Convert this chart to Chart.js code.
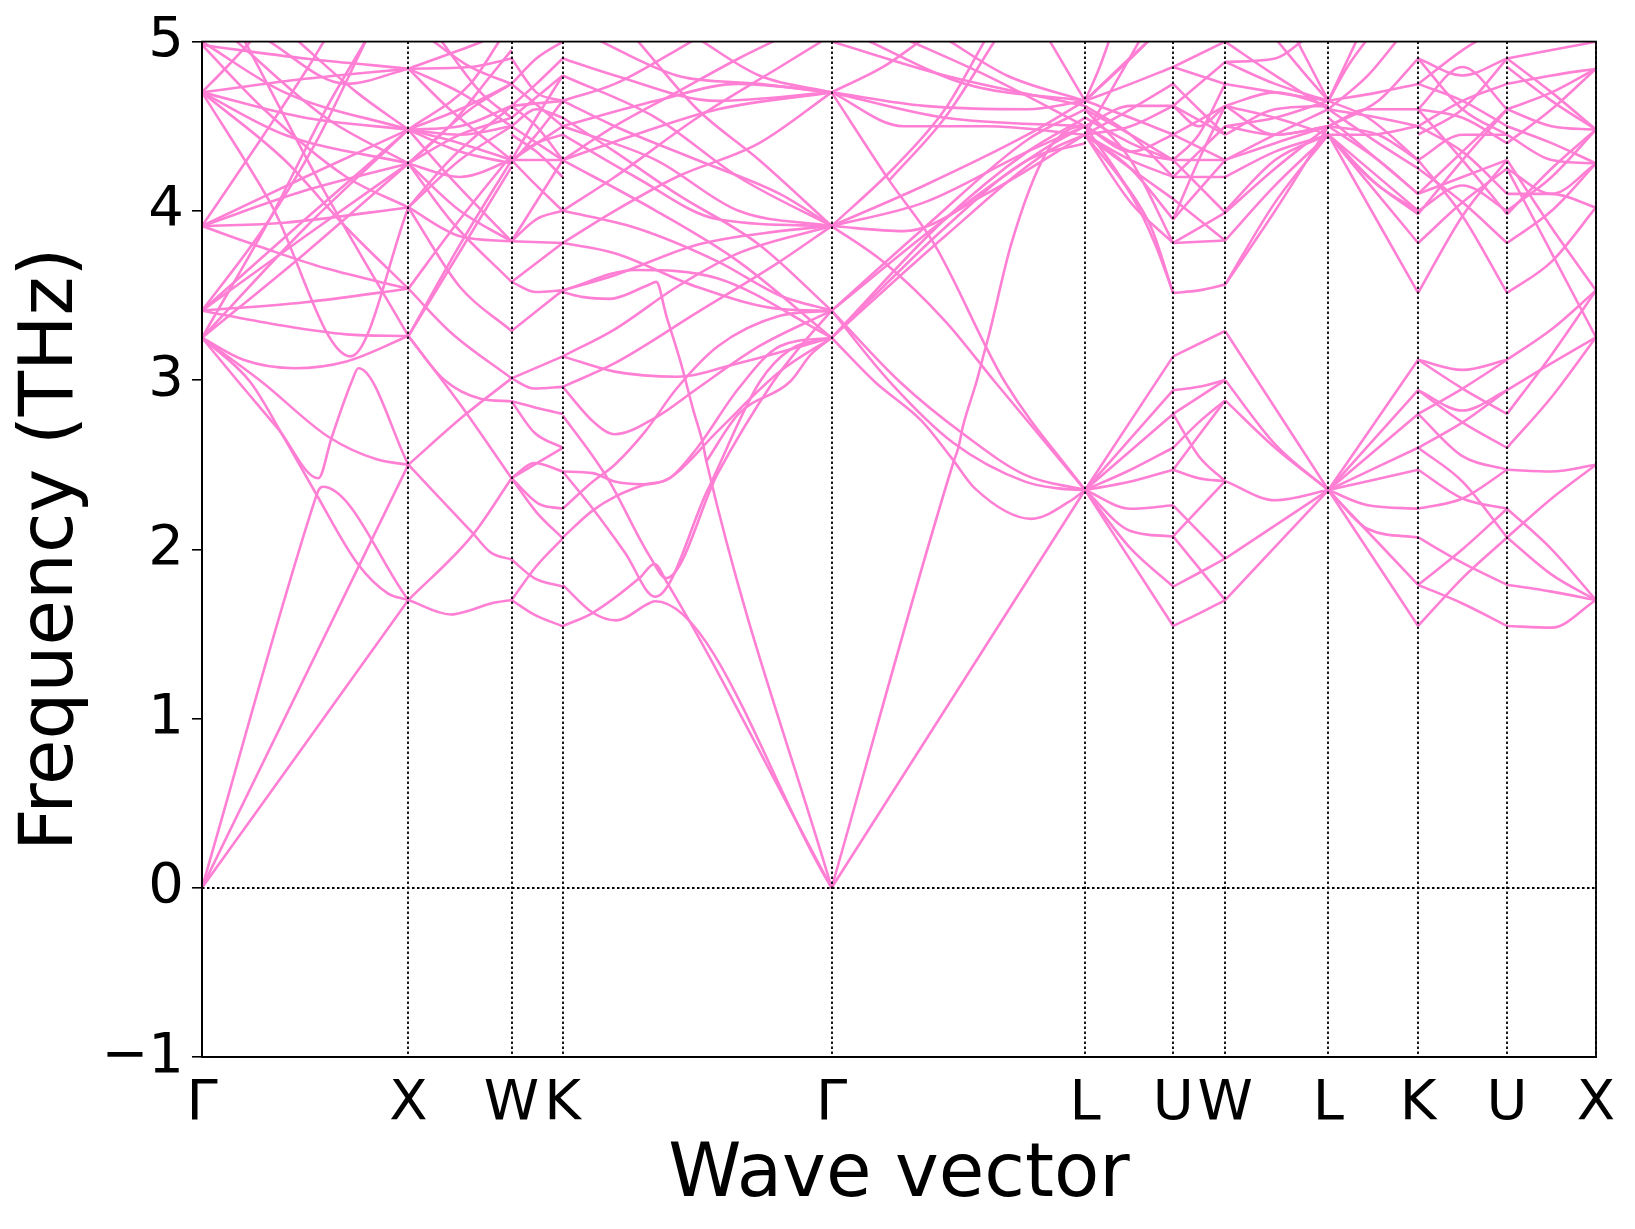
<!DOCTYPE html>
<html lang="en">

<head>
  <meta charset="UTF-8">
  <title>Phonon bands</title>
  <script src="https://cdn.jsdelivr.net/npm/chart.js"></script>
  <style>
    body { margin: 0; background: #fff; }
    #wrap { width: 1635px; height: 1229px; }
  </style>
</head>

<body>
  <div id="wrap"><canvas id="myChart"></canvas></div>
  <script>
    // high-symmetry points along the path
    const kpos = [0, 1.0, 1.5, 1.748, 3.051, 4.279, 4.706, 4.958, 5.458, 5.893, 6.324, 6.755];
    const kLabels = ['Γ', 'X', 'W', 'K', 'Γ', 'L', 'U', 'W', 'L', 'K', 'U', 'X'];
    const yTicks = [-1, 0, 1, 2, 3, 4, 5];

    // bands, [q, THz], one list per path segment
    const bandsGX = [
      [[0, 0], [1, 1.70]],
      [[0, 0], [1, 2.50]],
      [[0, 0], [0.544, 2.28], [0.565, 2.35], [0.585, 2.37], [1, 1.70]],
      [[0, 3.25], [0.233, 2.99], [0.402, 2.65], [0.547, 2.34], [0.757, 1.91], [0.9, 1.74], [1, 1.70]],
      [[0, 3.25], [0.176, 2.99], [0.37, 2.71], [0.564, 2.42], [0.628, 2.66], [0.725, 2.99], [0.758, 3.07], [1, 2.50]],
      [[0, 3.25], [0.289, 2.99], [0.612, 2.665], [0.85, 2.53], [1, 2.50]],
      [[0, 3.25], [0.2, 3.12], [0.45, 3.07], [0.7, 3.11], [1, 3.26]],
      [[0, 3.41], [0.5, 3.46], [1, 3.54]],
      [[0, 3.41], [0.35, 3.33], [0.7, 3.27], [1, 3.26]],
      [[0, 3.91], [0.3, 3.78], [0.6, 3.66], [1, 3.54]],
      [[0, 4.70], [0.33, 4.05], [0.72, 3.14], [1, 4.02]],
      [[0, 3.25], [0.5, 3.9], [1, 4.48]],
      [[0, 3.41], [0.5, 3.85], [1, 4.28]],
      [[0, 3.25], [0.5, 3.75], [1, 4.28]],
      [[0, 3.41], [0.5, 3.95], [1, 4.48]],
      [[0, 3.91], [0.5, 4.12], [1, 4.28]],
      [[0, 3.91], [0.5, 4.2], [1, 4.48]],
      [[0, 3.91], [0.4, 3.93], [1, 4.02]],
      [[0, 4.70], [0.5, 4.55], [1, 4.48]],
      [[0, 4.70], [0.5, 4.78], [1, 4.84]],
      [[0, 4.70], [0.4, 4.45], [1, 4.28]],
      [[0, 5.0], [0.4, 4.7], [1, 4.48]],
      [[0, 4.98], [0.5, 4.9], [1, 4.84]],
      [[0.15, 5.02], [0.6, 4.55], [1, 4.28]],
      [[0, 4.70], [0.12, 4.85], [0.25, 5.02]],
      [[0, 3.91], [0.3, 4.45], [0.5, 4.82], [0.6, 5.02]],
      [[0.3, 5.02], [0.7, 4.75], [1, 4.84]],
      [[0.2, 5.02], [0.6, 4.1], [1, 3.26]],
      [[0, 4.98], [0.3, 4.6], [0.7, 4.2], [1, 4.02]],
      [[0, 3.41], [0.3, 3.9], [0.55, 4.4], [0.8, 5.02]],
      [[0, 3.25], [0.35, 4.0], [0.6, 4.6], [0.8, 5.02]],
      [[0.45, 5.02], [0.75, 4.7], [1, 4.48]],
      [[0, 4.70], [0.4, 4.3], [0.7, 3.9], [1, 3.54]]
    ];

    const bandsXW = [
      [[1, 1.70], [1.205, 1.615], [1.3, 1.64], [1.4, 1.68], [1.5, 1.70]],
      [[1, 1.70], [1.312, 2.085], [1.5, 2.42]],
      [[1, 2.50], [1.312, 2.095], [1.4, 1.98], [1.5, 1.94]],
      [[1, 2.50], [1.27, 2.79], [1.5, 3.01]],
      [[1, 3.26], [1.255, 2.85], [1.5, 2.42]],
      [[1, 3.26], [1.175, 3.0], [1.35, 2.89], [1.5, 2.875]],
      [[1, 4.02], [1.25, 3.55], [1.5, 3.29]],
      [[1, 3.54], [1.207, 3.28], [1.5, 3.01]],
      [[1, 3.26], [1.25, 3.8], [1.5, 4.30]],
      [[1, 3.26], [1.25, 3.76], [1.5, 4.26]],
      [[1, 3.54], [1.25, 3.95], [1.5, 4.33]],
      [[1, 4.02], [1.25, 3.85], [1.5, 3.82]],
      [[1, 4.28], [1.25, 4.0], [1.5, 3.82]],
      [[1, 4.28], [1.2, 3.95], [1.5, 3.58]],
      [[1, 4.48], [1.25, 4.4], [1.5, 4.30]],
      [[1, 4.48], [1.25, 4.6], [1.5, 4.75]],
      [[1, 4.84], [1.25, 4.7], [1.5, 4.50]],
      [[1, 4.84], [1.25, 4.95], [1.4, 5.02]],
      [[1, 4.28], [1.25, 4.45], [1.5, 4.55]],
      [[1, 4.02], [1.2, 4.3], [1.5, 4.62]],
      [[1.1, 5.02], [1.3, 4.85], [1.5, 4.75]],
      [[1, 4.48], [1.25, 4.35], [1.5, 4.28]],
      [[1, 4.28], [1.2, 4.5], [1.4, 4.8], [1.5, 4.95]],
      [[1, 4.48], [1.2, 4.2], [1.5, 3.82]],
      [[1, 4.84], [1.2, 4.6], [1.5, 4.30]],
      [[1, 4.02], [1.25, 4.3], [1.5, 4.50]],
      [[1.15, 5.02], [1.35, 4.7], [1.5, 4.55]],
      [[1, 4.84], [1.3, 4.85], [1.5, 4.9]],
      [[1, 4.48], [1.25, 4.5], [1.5, 4.62]],
      [[1, 4.28], [1.25, 4.2], [1.5, 4.30]],
      [[1, 4.48], [1.25, 4.45], [1.5, 4.5]],
      [[1, 4.28], [1.3, 4.6], [1.5, 4.75]],
      [[1, 4.48], [1.3, 4.75], [1.45, 5.02]]
    ];

    const bandsWK = [
      [[1.5, 1.70], [1.61, 1.614], [1.748, 1.545]],
      [[1.5, 1.94], [1.61, 1.83], [1.748, 1.78]],
      [[1.5, 1.70], [1.62, 1.90], [1.748, 2.065]],
      [[1.5, 2.42], [1.62, 2.22], [1.748, 2.065]],
      [[1.5, 2.42], [1.63, 2.27], [1.748, 2.24]],
      [[1.5, 2.42], [1.61, 2.51], [1.748, 2.46]],
      [[1.5, 2.42], [1.748, 2.60]],
      [[1.5, 2.875], [1.61, 2.69], [1.748, 2.60]],
      [[1.5, 2.875], [1.64, 2.83], [1.748, 2.80]],
      [[1.5, 3.01], [1.61, 2.95], [1.748, 2.96]],
      [[1.5, 3.01], [1.748, 3.14]],
      [[1.5, 3.29], [1.748, 3.53]],
      [[1.5, 3.58], [1.62, 3.52], [1.748, 3.53]],
      [[1.5, 3.82], [1.748, 3.81]],
      [[1.5, 3.58], [1.748, 3.81]],
      [[1.5, 3.82], [1.62, 3.95], [1.748, 4.0]],
      [[1.5, 4.30], [1.748, 4.30]],
      [[1.5, 4.30], [1.62, 4.15], [1.748, 4.0]],
      [[1.5, 4.30], [1.748, 4.50]],
      [[1.5, 4.50], [1.748, 4.30]],
      [[1.5, 4.55], [1.748, 4.8]],
      [[1.5, 4.75], [1.748, 4.5]],
      [[1.5, 4.62], [1.748, 4.65]],
      [[1.5, 4.28], [1.62, 4.45], [1.748, 4.65]],
      [[1.5, 4.30], [1.62, 4.4], [1.748, 4.45]],
      [[1.5, 4.5], [1.62, 4.6], [1.748, 4.55]],
      [[1.5, 4.9], [1.62, 4.7], [1.748, 4.65]],
      [[1.5, 4.62], [1.62, 4.5], [1.748, 4.3]],
      [[1.5, 3.82], [1.748, 4.3]],
      [[1.5, 4.75], [1.62, 4.9], [1.748, 5.0]],
      [[1.5, 4.30], [1.62, 4.55], [1.748, 4.8]],
      [[1.5, 4.45], [1.62, 4.35], [1.748, 4.2]],
      [[1.5, 4.62], [1.62, 4.75], [1.748, 4.9]]
    ];

    const bandsKG = [
      [[1.748, 3.52], [1.85, 3.49], [1.975, 3.48], [2.16, 3.56], [2.201, 3.58], [2.25, 3.38], [2.323, 3.09], [2.379, 2.83], [2.428, 2.62], [2.444, 2.52], [3.051, 0]],
      [[1.748, 1.546], [1.894, 1.625], [2.12, 1.83], [2.193, 1.913], [2.25, 1.81], [3.051, 0]],
      [[1.748, 1.79], [1.894, 1.625], [2.007, 1.58], [2.169, 1.683], [2.196, 1.693], [3.051, 0]],
      [[1.748, 2.46], [1.894, 2.24], [2.05, 1.98], [2.196, 1.72], [2.45, 2.35], [2.703, 2.99], [2.85, 3.18], [3.051, 3.25]],
      [[1.748, 2.79], [1.894, 2.55], [1.975, 2.40], [2.169, 1.96], [2.25, 1.83], [2.5, 2.45], [2.768, 2.99], [2.9, 3.2], [3.051, 3.41]],
      [[2.444, 2.52], [2.6, 2.8], [2.849, 2.99], [2.95, 3.15], [3.051, 3.25]],
      [[1.748, 2.07], [1.894, 2.23], [2.0, 2.31], [2.14, 2.38], [2.266, 2.42], [2.4, 2.6], [2.6, 2.95], [2.8, 3.2], [3.051, 3.25]],
      [[1.748, 2.24], [1.894, 2.4], [2.0, 2.5], [2.15, 2.7], [2.3, 2.95], [2.5, 3.2], [2.8, 3.38], [3.051, 3.41]],
      [[1.748, 2.46], [1.894, 2.45], [2.0, 2.40], [2.136, 2.384], [2.266, 2.42], [2.5, 2.7], [2.8, 3.05], [3.051, 3.25]],
      [[1.748, 2.96], [1.9, 2.75], [2.0, 2.68], [2.2, 2.78], [2.4, 2.95], [2.7, 3.2], [3.051, 3.41]],
      [[1.748, 3.81], [2.0, 3.75], [2.4, 3.55], [2.8, 3.42], [3.051, 3.41]],
      [[1.748, 3.53], [2.0, 3.62], [2.4, 3.8], [2.8, 3.88], [3.051, 3.91]],
      [[1.748, 4.0], [2.1, 3.9], [2.5, 3.7], [2.8, 3.5], [3.051, 3.41]],
      [[1.748, 4.3], [2.2, 4.0], [2.6, 3.7], [3.051, 3.25]],
      [[1.748, 4.5], [2.2, 4.3], [2.6, 4.0], [3.051, 3.91]],
      [[1.748, 4.8], [2.2, 4.55], [2.6, 4.2], [3.051, 3.91]],
      [[1.748, 4.3], [2.1, 4.45], [2.5, 4.6], [3.051, 4.70]],
      [[1.748, 4.5], [2.2, 4.65], [2.6, 4.75], [3.051, 4.70]],
      [[1.748, 4.0], [2.0, 4.2], [2.4, 4.55], [2.8, 4.85], [3.0, 5.0]],
      [[1.748, 4.65], [2.0, 4.75], [2.3, 4.95], [2.4, 5.02]],
      [[1.9, 5.02], [2.3, 4.8], [2.7, 4.75], [3.051, 4.70]],
      [[1.748, 3.81], [2.0, 4.0], [2.3, 4.2], [2.7, 4.4], [3.051, 4.70]],
      [[1.748, 3.14], [2.0, 3.3], [2.3, 3.55], [2.6, 3.75], [3.051, 3.91]],
      [[1.748, 2.96], [2.0, 3.1], [2.4, 3.4], [2.8, 3.7], [3.051, 3.91]],
      [[1.748, 3.53], [2.1, 3.65], [2.5, 3.6], [3.051, 3.25]],
      [[1.748, 3.14], [2.0, 3.05], [2.3, 3.02], [2.6, 3.1], [3.051, 3.25]],
      [[2.4, 5.02], [2.7, 4.8], [3.051, 4.70]],
      [[1.748, 4.65], [2.0, 4.5], [2.4, 4.3], [2.8, 4.1], [3.051, 3.91]],
      [[1.748, 4.55], [2.0, 4.35], [2.3, 4.1], [2.7, 3.8], [3.051, 3.41]],
      [[1.748, 4.3], [2.0, 4.5], [2.3, 4.7], [2.6, 4.9], [2.8, 5.02]],
      [[1.748, 4.45], [2.1, 4.2], [2.5, 3.95], [3.051, 3.91]],
      [[1.748, 4.9], [2.0, 4.8], [2.5, 4.65], [3.051, 4.70]],
      [[2.1, 5.02], [2.4, 4.6], [2.7, 4.3], [3.051, 3.91]]
    ];

    const bandsGL = [
      [[3.051, 0], [4.279, 2.35]],
      [[3.051, 0], [3.64, 2.51], [3.665, 2.60], [3.688, 2.73], [3.753, 2.99], [3.79, 3.16], [3.81, 3.25], [3.923, 3.81], [4.085, 4.33], [4.2, 4.48], [4.279, 4.5]],
      [[3.051, 3.25], [3.26, 2.99], [3.486, 2.76], [3.632, 2.54], [3.745, 2.36], [4.02, 2.18], [4.2, 2.28], [4.279, 2.35]],
      [[3.051, 3.41], [3.333, 2.99], [3.64, 2.63], [3.988, 2.40], [4.15, 2.36], [4.279, 2.35]],
      [[3.051, 3.41], [3.381, 2.99], [3.696, 2.675], [3.988, 2.44], [4.279, 2.35]],
      [[3.051, 3.91], [3.3, 3.7], [3.6, 3.35], [3.842, 2.99], [4.279, 2.35]],
      [[3.051, 4.70], [3.33, 4.18], [3.55, 3.8], [3.89, 2.99], [4.279, 2.35]],
      [[3.051, 3.25], [3.6, 3.85], [4.1, 4.35], [4.279, 4.45]],
      [[3.051, 3.41], [3.6, 3.95], [4.1, 4.38], [4.279, 4.5]],
      [[3.051, 3.91], [3.5, 4.05], [4.0, 4.35], [4.279, 4.5]],
      [[3.051, 3.91], [3.4, 3.88], [3.8, 4.1], [4.279, 4.45]],
      [[3.051, 3.91], [3.5, 4.15], [4.0, 4.45], [4.279, 4.65]],
      [[3.051, 4.70], [3.5, 4.62], [4.0, 4.6], [4.279, 4.65]],
      [[3.051, 4.70], [3.6, 4.55], [4.279, 4.5]],
      [[3.051, 4.70], [3.3, 4.85], [3.5, 5.02]],
      [[3.2, 5.02], [3.7, 4.75], [4.279, 4.65]],
      [[3.4, 5.02], [3.8, 4.8], [4.279, 4.5]],
      [[3.051, 5.0], [3.6, 4.8], [4.279, 4.62]],
      [[3.051, 3.25], [3.3, 3.55], [3.6, 3.9], [4.0, 4.3], [4.279, 4.4]],
      [[3.33, 4.18], [3.6, 4.55], [3.85, 5.02]],
      [[3.051, 3.91], [3.35, 4.25], [3.6, 4.6], [3.8, 5.02]],
      [[3.051, 3.41], [3.5, 3.9], [4.0, 4.42], [4.279, 4.6]],
      [[3.051, 4.70], [3.4, 4.5], [3.8, 4.5], [4.279, 4.45]],
      [[3.6, 5.02], [3.9, 4.8], [4.279, 4.65]],
      [[3.051, 3.25], [3.6, 3.95], [4.0, 4.35], [4.279, 4.55]],
      [[4.1, 5.02], [4.279, 4.65]]
    ];

    const bandsLU = [
      [[4.279, 2.35], [4.706, 1.547]],
      [[4.279, 2.35], [4.496, 2.01], [4.706, 1.78]],
      [[4.279, 2.35], [4.496, 2.11], [4.706, 2.076]],
      [[4.279, 2.35], [4.5, 2.24], [4.706, 2.26]],
      [[4.279, 2.35], [4.5, 2.40], [4.706, 2.47]],
      [[4.279, 2.35], [4.5, 2.47], [4.706, 2.60]],
      [[4.279, 2.35], [4.706, 2.80]],
      [[4.279, 2.35], [4.706, 2.94]],
      [[4.279, 2.35], [4.706, 3.14]],
      [[4.279, 4.45], [4.5, 4.1], [4.62, 3.8], [4.706, 3.515]],
      [[4.279, 4.45], [4.5, 4.05], [4.706, 3.81]],
      [[4.279, 4.45], [4.5, 4.25], [4.706, 4.07]],
      [[4.279, 4.50], [4.5, 4.35], [4.706, 4.30]],
      [[4.279, 4.65], [4.5, 4.55], [4.706, 4.45]],
      [[4.279, 4.65], [4.5, 4.75], [4.706, 4.85]],
      [[4.279, 4.65], [4.45, 4.85], [4.6, 5.02]],
      [[4.279, 4.5], [4.5, 4.62], [4.706, 4.62]],
      [[4.279, 4.45], [4.5, 4.3], [4.706, 4.2]],
      [[4.279, 4.60], [4.5, 4.45], [4.706, 4.30]],
      [[4.279, 4.65], [4.35, 4.85], [4.40, 5.02]],
      [[4.279, 4.45], [4.5, 4.25], [4.706, 3.95]],
      [[4.279, 4.45], [4.5, 4.5], [4.706, 4.62]],
      [[4.279, 4.6], [4.5, 4.3], [4.706, 3.81]],
      [[4.279, 4.5], [4.5, 4.35], [4.706, 4.45]],
      [[4.279, 4.65], [4.5, 4.9], [4.6, 5.02]],
      [[4.279, 4.45], [4.4, 4.7], [4.55, 5.02]],
      [[4.279, 4.5], [4.45, 4.2], [4.6, 3.9], [4.706, 3.515]],
      [[4.279, 4.55], [4.5, 4.4], [4.706, 4.30]],
      [[4.279, 4.45], [4.5, 4.6], [4.706, 4.75]],
      [[4.279, 4.62], [4.5, 4.45], [4.706, 4.2]]
    ];

    const bandsUW = [
      [[4.706, 1.547], [4.83, 1.62], [4.958, 1.70]],
      [[4.706, 1.78], [4.83, 1.86], [4.958, 1.945]],
      [[4.706, 2.076], [4.958, 2.403]],
      [[4.706, 2.076], [4.958, 1.70]],
      [[4.706, 2.26], [4.958, 1.945]],
      [[4.706, 2.47], [4.83, 2.42], [4.958, 2.403]],
      [[4.706, 2.47], [4.958, 2.88]],
      [[4.706, 2.60], [4.83, 2.75], [4.958, 2.88]],
      [[4.706, 2.80], [4.958, 3.0]],
      [[4.706, 2.94], [4.83, 2.96], [4.958, 3.0]],
      [[4.706, 3.14], [4.958, 3.29]],
      [[4.706, 2.80], [4.83, 2.55], [4.958, 2.403]],
      [[4.706, 3.515], [4.83, 3.53], [4.958, 3.564]],
      [[4.706, 3.81], [4.958, 3.825]],
      [[4.706, 3.81], [4.958, 3.99]],
      [[4.706, 4.07], [4.958, 3.825]],
      [[4.706, 4.30], [4.958, 3.99]],
      [[4.706, 4.30], [4.958, 4.30]],
      [[4.706, 4.45], [4.958, 4.62]],
      [[4.706, 4.62], [4.958, 4.45]],
      [[4.706, 4.85], [4.958, 4.75]],
      [[4.706, 4.2], [4.958, 4.50]],
      [[4.706, 3.95], [4.958, 4.30]],
      [[4.706, 4.62], [4.958, 4.88]],
      [[4.706, 4.45], [4.958, 4.30]],
      [[4.706, 4.85], [4.958, 5.0]],
      [[4.706, 4.62], [4.83, 4.5], [4.958, 4.62]],
      [[4.706, 4.2], [4.958, 4.2]],
      [[4.706, 3.95], [4.83, 4.3], [4.958, 4.62]],
      [[4.706, 4.75], [4.83, 4.6], [4.958, 4.45]],
      [[4.706, 4.3], [4.83, 4.45], [4.958, 4.75]]
    ];

    const bandsWL = [
      [[4.958, 3.29], [5.458, 2.35]],
      [[4.958, 3.0], [5.2, 2.62], [5.458, 2.35]],
      [[4.958, 2.88], [5.2, 2.6], [5.458, 2.35]],
      [[4.958, 2.403], [5.2, 2.29], [5.458, 2.35]],
      [[4.958, 1.945], [5.458, 2.35]],
      [[4.958, 1.70], [5.458, 2.35]],
      [[4.958, 3.564], [5.2, 4.05], [5.458, 4.45]],
      [[4.958, 3.825], [5.2, 4.15], [5.458, 4.45]],
      [[4.958, 3.99], [5.2, 4.25], [5.458, 4.5]],
      [[4.958, 4.30], [5.2, 4.4], [5.458, 4.5]],
      [[4.958, 4.30], [5.2, 4.45], [5.458, 4.6]],
      [[4.958, 4.50], [5.2, 4.55], [5.458, 4.65]],
      [[4.958, 4.62], [5.2, 4.55], [5.458, 4.45]],
      [[4.958, 4.75], [5.2, 4.7], [5.458, 4.65]],
      [[4.958, 4.88], [5.2, 4.75], [5.458, 4.65]],
      [[4.958, 5.0], [5.2, 4.8], [5.458, 4.6]],
      [[5.3, 5.02], [5.458, 4.65]],
      [[4.958, 4.0], [5.2, 4.3], [5.458, 4.45]],
      [[4.958, 4.5], [5.2, 4.45], [5.458, 4.5]],
      [[4.958, 4.2], [5.2, 4.35], [5.458, 4.45]],
      [[4.958, 3.564], [5.2, 4.0], [5.458, 4.5]],
      [[4.958, 4.62], [5.2, 4.7], [5.458, 4.62]],
      [[4.958, 4.88], [5.2, 4.9], [5.35, 5.02]],
      [[4.958, 4.45], [5.2, 4.6], [5.458, 4.62]],
      [[4.958, 4.62], [5.2, 4.45], [5.458, 4.5]],
      [[5.2, 5.02], [5.35, 4.8], [5.458, 4.65]]
    ];

    const bandsLK = [
      [[5.458, 2.35], [5.893, 1.547]],
      [[5.458, 2.35], [5.893, 1.79]],
      [[5.458, 2.35], [5.65, 2.12], [5.893, 2.07]],
      [[5.458, 2.35], [5.65, 2.26], [5.893, 2.24]],
      [[5.458, 2.35], [5.893, 2.47]],
      [[5.458, 2.35], [5.893, 2.60]],
      [[5.458, 2.35], [5.893, 2.80]],
      [[5.458, 2.35], [5.893, 2.94]],
      [[5.458, 2.35], [5.893, 3.12]],
      [[5.458, 4.45], [5.893, 3.515]],
      [[5.458, 4.45], [5.893, 3.81]],
      [[5.458, 4.45], [5.893, 4.0]],
      [[5.458, 4.5], [5.7, 4.3], [5.893, 4.1]],
      [[5.458, 4.5], [5.7, 4.45], [5.893, 4.3]],
      [[5.458, 4.6], [5.7, 4.55], [5.893, 4.5]],
      [[5.458, 4.65], [5.7, 4.7], [5.893, 4.75]],
      [[5.458, 4.65], [5.6, 5.02]],
      [[5.458, 4.5], [5.7, 4.65], [5.893, 4.9]],
      [[5.458, 4.6], [5.7, 4.4], [5.893, 4.25]],
      [[5.458, 4.45], [5.65, 4.2], [5.893, 3.98]],
      [[5.458, 4.45], [5.65, 4.45], [5.893, 4.5]],
      [[5.458, 4.65], [5.65, 4.55], [5.893, 4.3]],
      [[5.458, 4.6], [5.65, 4.8], [5.8, 5.02]],
      [[5.458, 4.45], [5.7, 4.15], [5.893, 4.0]],
      [[5.458, 4.55], [5.65, 4.35], [5.893, 4.1]],
      [[5.458, 4.5], [5.65, 4.6], [5.893, 4.6]],
      [[5.458, 4.65], [5.55, 4.85], [5.65, 5.02]]
    ];

    const bandsKU = [
      [[5.893, 1.547], [6.108, 1.83], [6.324, 2.07]],
      [[5.893, 1.79], [6.108, 1.68], [6.324, 1.547]],
      [[5.893, 2.07], [6.108, 1.92], [6.324, 1.79]],
      [[5.893, 1.79], [6.108, 2.0], [6.324, 2.24]],
      [[5.893, 2.24], [6.108, 2.30], [6.324, 2.47]],
      [[5.893, 2.47], [6.108, 2.30], [6.324, 2.24]],
      [[5.893, 2.60], [6.108, 2.40], [6.324, 2.07]],
      [[5.893, 2.80], [6.108, 2.55], [6.324, 2.47]],
      [[5.893, 2.94], [6.108, 2.82], [6.324, 2.94]],
      [[5.893, 3.12], [6.108, 3.06], [6.324, 3.12]],
      [[5.893, 2.94], [6.108, 2.75], [6.324, 2.60]],
      [[5.893, 2.60], [6.108, 2.75], [6.324, 2.94]],
      [[5.893, 2.80], [6.108, 2.95], [6.324, 3.12]],
      [[5.893, 3.12], [6.108, 2.95], [6.324, 2.80]],
      [[5.893, 3.515], [6.108, 3.97], [6.324, 4.3]],
      [[5.893, 4.3], [6.108, 3.97], [6.324, 3.515]],
      [[5.893, 3.81], [6.108, 4.05], [6.324, 4.25]],
      [[5.893, 4.25], [6.108, 4.05], [6.324, 3.81]],
      [[5.893, 4.0], [6.108, 4.15], [6.324, 4.0]],
      [[5.893, 4.1], [6.108, 4.35], [6.324, 4.6]],
      [[5.893, 4.5], [6.108, 4.65], [6.324, 4.75]],
      [[5.893, 4.75], [6.108, 4.65], [6.324, 4.5]],
      [[5.893, 4.5], [6.108, 4.35], [6.324, 4.1]],
      [[5.893, 4.9], [6.108, 4.8], [6.324, 4.9]],
      [[5.893, 4.3], [6.108, 4.45], [6.324, 4.45]],
      [[5.893, 4.6], [6.108, 4.55], [6.324, 4.4]],
      [[5.893, 4.6], [6.108, 4.85], [6.324, 4.6]],
      [[5.893, 4.75], [6.108, 4.95], [6.2, 5.02]],
      [[5.893, 4.1], [6.108, 4.2], [6.324, 4.3]],
      [[5.893, 3.98], [6.108, 4.3], [6.324, 4.6]],
      [[5.893, 4.6], [6.108, 4.3], [6.324, 3.98]],
      [[5.893, 4.9], [6.108, 4.6], [6.324, 4.45]],
      [[5.893, 4.45], [6.108, 4.6], [6.324, 4.9]]
    ];

    const bandsUX = [
      [[6.324, 1.547], [6.54, 1.537], [6.755, 1.70]],
      [[6.324, 1.79], [6.54, 1.75], [6.755, 1.70]],
      [[6.324, 2.07], [6.54, 1.85], [6.755, 1.70]],
      [[6.324, 2.24], [6.54, 2.0], [6.755, 1.70]],
      [[6.324, 2.47], [6.54, 2.46], [6.755, 2.50]],
      [[6.324, 2.07], [6.54, 2.3], [6.755, 2.50]],
      [[6.324, 2.60], [6.54, 2.9], [6.755, 3.253]],
      [[6.324, 2.94], [6.54, 3.1], [6.755, 3.253]],
      [[6.324, 2.80], [6.54, 3.15], [6.755, 3.53]],
      [[6.324, 3.12], [6.54, 3.3], [6.755, 3.53]],
      [[6.324, 3.515], [6.54, 3.7], [6.755, 4.02]],
      [[6.324, 4.3], [6.54, 3.9], [6.755, 3.53]],
      [[6.324, 4.25], [6.54, 3.75], [6.755, 3.253]],
      [[6.324, 3.81], [6.54, 4.0], [6.755, 4.28]],
      [[6.324, 4.0], [6.54, 4.2], [6.755, 4.48]],
      [[6.324, 4.6], [6.54, 4.5], [6.755, 4.48]],
      [[6.324, 4.75], [6.54, 4.8], [6.755, 4.84]],
      [[6.324, 4.5], [6.54, 4.4], [6.755, 4.28]],
      [[6.324, 4.1], [6.54, 4.1], [6.755, 4.02]],
      [[6.324, 4.9], [6.54, 4.95], [6.755, 5.0]],
      [[6.324, 4.4], [6.54, 4.6], [6.755, 4.84]],
      [[6.324, 4.45], [6.54, 4.3], [6.755, 4.28]],
      [[6.324, 4.6], [6.54, 4.7], [6.755, 4.84]],
      [[6.324, 4.85], [6.54, 4.65], [6.755, 4.48]],
      [[6.324, 3.98], [6.54, 4.25], [6.755, 4.48]],
      [[6.324, 4.25], [6.54, 4.1], [6.755, 4.28]],
      [[6.324, 4.9], [6.54, 4.7], [6.755, 4.48]]
    ];

    const lineColor = '#ff7fd4';
    const allSegments = [bandsGX, bandsXW, bandsWK, bandsKG, bandsGL, bandsLU, bandsUW, bandsWL, bandsLK, bandsKU, bandsUX];

    let datasets = [];
    allSegments.forEach(function (seg) {
      seg.forEach(function (band) {
        datasets.push({
          data: band.map(p => ({ x: p[0], y: p[1] })),
          borderColor: lineColor,
          borderWidth: 2.6,
          pointRadius: 0,
          fill: false,
          cubicInterpolationMode: 'monotone'
        });
      });
    });

    // dotted guide lines and the box round the plot
    const framePlugin = {
      id: 'frame',
      afterDatasetsDraw(chart) {
        const { ctx, chartArea: a, scales: { x, y } } = chart;
        ctx.save();
        ctx.strokeStyle = '#000';
        ctx.lineWidth = 1.8;
        ctx.setLineDash([2.5, 2.5]);
        kpos.forEach(function (q) {
          const px = Math.round(x.getPixelForValue(q));
          ctx.beginPath();
          ctx.moveTo(px, a.top);
          ctx.lineTo(px, a.bottom);
          ctx.stroke();
        });
        const py = Math.round(y.getPixelForValue(0));
        ctx.beginPath();
        ctx.moveTo(a.left, py);
        ctx.lineTo(a.right, py);
        ctx.stroke();
        ctx.setLineDash([]);
        ctx.lineWidth = 1.8;
        ctx.strokeRect(a.left, a.top, a.right - a.left, a.bottom - a.top);
        ctx.restore();
      }
    };

    const ctx = document.getElementById('myChart');
    new Chart(ctx, {
      type: 'line',
      data: { datasets: datasets },
      plugins: [framePlugin],
      options: {
        responsive: true,
        maintainAspectRatio: false,
        animation: false,
        layout: { padding: { top: 39, right: 39, left: 0, bottom: 0 } },
        plugins: { legend: { display: false }, tooltip: { enabled: false } },
        scales: {
          x: {
            type: 'linear',
            min: 0,
            max: kpos[kpos.length - 1],
            afterFit: function (s) { s.height = 172; },
            afterBuildTicks: function (s) { s.ticks = kpos.map(v => ({ value: v })); },
            grid: { display: false },
            border: { display: true, color: '#000', width: 1.8 },
            ticks: {
              autoSkip: false,
              maxRotation: 0,
              padding: 6,
              color: '#000',
              font: { family: 'DejaVu Sans', size: 56 },
              callback: function (v, i) { return kLabels[i]; }
            },
            title: {
              display: true,
              text: 'Wave vector',
              color: '#000',
              font: { family: 'DejaVu Sans', size: 74 },
              padding: { top: 0, bottom: 8 }
            }
          },
          y: {
            min: -1,
            max: 5,
            afterFit: function (s) { s.width = 202; },
            afterBuildTicks: function (s) { s.ticks = yTicks.map(v => ({ value: v })); },
            grid: { display: true, drawOnChartArea: false, drawTicks: true, tickLength: 10, color: '#000', lineWidth: 1.6 },
            border: { display: true, color: '#000', width: 1.8 },
            ticks: {
              padding: 8,
              color: '#000',
              font: { family: 'DejaVu Sans', size: 56 },
              callback: function (v) { return v < 0 ? '\u2212' + Math.abs(v) : String(v); }
            },
            title: {
              display: true,
              text: 'Frequency (THz)',
              color: '#000',
              font: { family: 'DejaVu Sans', size: 74 },
              padding: { top: 8, bottom: 0 }
            }
          }
        }
      }
    });
  </script>
</body>

</html>
